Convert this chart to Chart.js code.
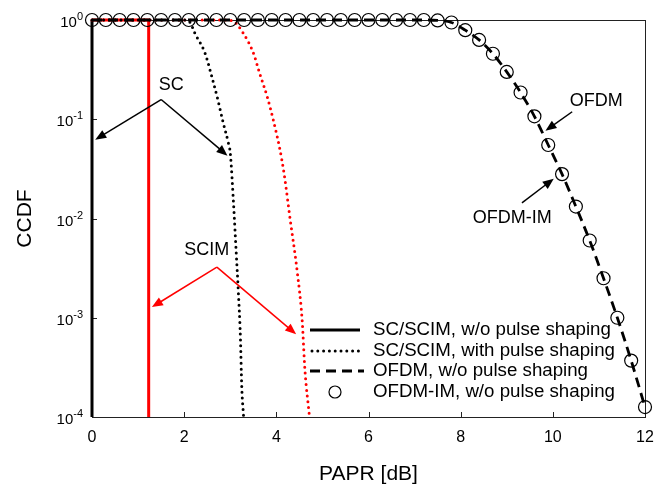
<!DOCTYPE html>
<html>
<head>
<meta charset="utf-8">
<script src="https://cdn.jsdelivr.net/npm/chart.js@4.4.1/dist/chart.umd.min.js"></script>
<style>
  body { margin: 0; background: #fff; }
  #wrap { width: 665px; height: 485px; }
</style>
</head>
<body>
<div id="wrap"><canvas id="papr" width="665" height="485"></canvas></div>
<script>
// OFDM / OFDM-IM simulation grid (dB) and CCDF values
const ofdmPapr = [0, 0.3, 0.6, 0.9, 1.2, 1.5, 1.8, 2.1, 2.4, 2.7, 3.0, 3.3, 3.6, 3.9, 4.2, 4.5, 4.8, 5.1, 5.4, 5.7,
                  6.0, 6.3, 6.6, 6.9, 7.2, 7.5, 7.8, 8.1, 8.4, 8.7, 9.0, 9.3, 9.6, 9.9, 10.2, 10.5, 10.8, 11.1, 11.4, 11.7, 12.0];
const ofdmCcdf = [1, 1, 1, 1, 1, 1, 1, 1, 1, 1, 1, 1, 1, 1, 1, 1, 1, 1, 1, 1,
                  1, 1, 1, 1, 1, 0.99, 0.944, 0.79, 0.63, 0.457, 0.30, 0.186, 0.107, 0.055, 0.028, 0.0132, 0.006, 0.0025, 0.001, 0.00037, 0.000126];
const ofdmImCcdf = [1, 1, 1, 1, 1, 1, 1, 1, 1, 1, 1, 1, 1, 1, 1, 1, 1, 1, 1, 1,
                    1, 1, 1, 1, 1, 0.99, 0.944, 0.79, 0.63, 0.457, 0.30, 0.186, 0.107, 0.055, 0.028, 0.0132, 0.006, 0.0025, 0.001, 0.00037, 0.000126];

// SC / SCIM without pulse shaping (step curves)
const scPapr = [0, 0];
const scCcdf = [1, 0.0001];
const scimPapr = [0, 1.23, 1.23];
const scimCcdf = [1, 1, 0.0001];

// SC / SCIM with pulse shaping
const scPsPapr = [0, 2.0, 2.13, 2.23, 2.45, 2.6, 2.73, 2.85, 2.96, 3.0, 3.07, 3.13, 3.17, 3.22, 3.25, 3.29];
const scPsCcdf = [1, 1, 0.944, 0.74, 0.468, 0.269, 0.158, 0.091, 0.0575, 0.046, 0.0145, 0.00447, 0.00204, 0.000646, 0.0002, 0.0001];
const scimPsPapr = [0, 2.9, 3.07, 3.28, 3.5, 3.64, 3.8, 3.93, 4.08, 4.17, 4.30, 4.45, 4.56, 4.62, 4.72];
const scimPsCcdf = [1, 1, 0.97, 0.74, 0.468, 0.288, 0.17, 0.1, 0.049, 0.028, 0.0098, 0.003, 0.00095, 0.0003, 0.0001];

const xTicks = [0, 2, 4, 6, 8, 10, 12];
const yExponents = [0, -1, -2, -3, -4];

const legendLabels = ['SC/SCIM, w/o pulse shaping', 'SC/SCIM, with pulse shaping', 'OFDM, w/o pulse shaping', 'OFDM-IM, w/o pulse shaping'];

// text notes and arrows, in data units
const noteText = ['SC', 'SCIM', 'OFDM', 'OFDM-IM'];
const noteX = [1.72, 2.49, 10.94, 9.12];
const noteY = [0.221, 0.0048, 0.154, 0.010];
const arrowFromX = [1.50, 1.50, 2.71, 2.71, 10.42, 9.33];
const arrowFromY = [0.158, 0.158, 0.00324, 0.00324, 0.119, 0.0144];
const arrowToX = [0.07, 2.94, 1.30, 4.43, 9.84, 10.02];
const arrowToY = [0.0622, 0.043, 0.00128, 0.000682, 0.0767, 0.0252];
const arrowColor = ['#000', '#000', '#f00', '#f00', '#000', '#000'];

const FONT = '"Liberation Sans", Arial, sans-serif';
const dotted = [0, 5.8];
const dashed = [10, 6];

function pts(xs, ys) {
    return xs.map((x, i) => ({x: x, y: ys[i]}));
}

function drawArrow(ctx, x1, y1, x2, y2, color) {
    const ang = Math.atan2(y2 - y1, x2 - x1);
    const len = 11, half = 4.5;
    ctx.save();
    ctx.strokeStyle = color;
    ctx.fillStyle = color;
    ctx.lineWidth = 1.5;
    ctx.beginPath();
    ctx.moveTo(x1, y1);
    ctx.lineTo(x2 - Math.cos(ang) * len * 0.8, y2 - Math.sin(ang) * len * 0.8);
    ctx.stroke();
    ctx.beginPath();
    ctx.moveTo(x2, y2);
    ctx.lineTo(x2 - Math.cos(ang) * len - Math.sin(ang) * half, y2 - Math.sin(ang) * len + Math.cos(ang) * half);
    ctx.lineTo(x2 - Math.cos(ang) * len + Math.sin(ang) * half, y2 - Math.sin(ang) * len - Math.cos(ang) * half);
    ctx.closePath();
    ctx.fill();
    ctx.restore();
}

const frame = {
    id: 'frame',
    beforeDatasetsDraw(chart) {
        const {ctx, chartArea: a, scales} = chart;
        ctx.save();
        ctx.strokeStyle = '#222';
        ctx.lineWidth = 1;
        ctx.strokeRect(a.left + 0.5, a.top + 0.5, a.right - a.left, a.bottom - a.top);
        ctx.beginPath();
        xTicks.forEach(v => {
            const x = Math.round(scales.x.getPixelForValue(v)) + 0.5;
            ctx.moveTo(x, a.bottom);
            ctx.lineTo(x, a.bottom - 5);
        });
        yExponents.forEach(e => {
            const y = Math.round(scales.y.getPixelForValue(Math.pow(10, e))) + 0.5;
            ctx.moveTo(a.left, y);
            ctx.lineTo(a.left + 5, y);
        });
        ctx.stroke();

        // y tick labels 10^n
        ctx.fillStyle = '#000';
        ctx.textBaseline = 'middle';
        yExponents.forEach(e => {
            const y = scales.y.getPixelForValue(Math.pow(10, e));
            const sup = String(e);
            ctx.font = '11px ' + FONT;
            const supW = ctx.measureText(sup).width;
            ctx.font = '15px ' + FONT;
            const baseW = ctx.measureText('10').width;
            const right = a.left - 9;
            ctx.textAlign = 'left';
            ctx.fillText('10', right - supW - baseW, y + 3);
            ctx.font = '11px ' + FONT;
            ctx.fillText(sup, right - supW, y - 3);
        });

        // axis titles
        ctx.font = '21px ' + FONT;
        ctx.textAlign = 'center';
        ctx.fillText('PAPR [dB]', (a.left + a.right) / 2, 474);
        ctx.save();
        ctx.translate(25, (a.top + a.bottom) / 2);
        ctx.rotate(-Math.PI / 2);
        ctx.fillText('CCDF', 0, 0);
        ctx.restore();
        ctx.restore();
    },
    afterDatasetsDraw(chart) {
        const {ctx, scales} = chart;
        ctx.save();
        // arrows and notes
        arrowFromX.forEach((v, i) => {
            drawArrow(ctx,
                scales.x.getPixelForValue(v), scales.y.getPixelForValue(arrowFromY[i]),
                scales.x.getPixelForValue(arrowToX[i]), scales.y.getPixelForValue(arrowToY[i]),
                arrowColor[i]);
        });
        ctx.font = '18px ' + FONT;
        ctx.textAlign = 'center';
        ctx.textBaseline = 'middle';
        ctx.fillStyle = '#000';
        noteText.forEach((t, i) => {
            ctx.fillText(t, scales.x.getPixelForValue(noteX[i]), scales.y.getPixelForValue(noteY[i]));
        });

        // legend
        const rows = [330, 351, 371, 392];
        const x0 = 310, x1 = 360, tx = 373;
        ctx.strokeStyle = '#000';
        ctx.textAlign = 'left';
        ctx.font = '18.7px ' + FONT;
        legendLabels.forEach((t, i) => {
            const y = rows[i];
            ctx.lineCap = 'butt';
            ctx.setLineDash([]);
            if (i === 0) {
                ctx.lineWidth = 3;
                ctx.beginPath(); ctx.moveTo(x0, y); ctx.lineTo(x1, y); ctx.stroke();
            } else if (i === 1) {
                ctx.lineWidth = 3;
                ctx.lineCap = 'round';
                ctx.setLineDash(dotted);
                ctx.beginPath(); ctx.moveTo(x0 + 2, y); ctx.lineTo(x1, y); ctx.stroke();
            } else if (i === 2) {
                ctx.lineWidth = 2.8;
                ctx.setLineDash(dashed);
                ctx.beginPath(); ctx.moveTo(x0, y); ctx.lineTo(x1 + 4, y); ctx.stroke();
            } else {
                ctx.lineWidth = 1.2;
                ctx.beginPath(); ctx.arc((x0 + x1) / 2, y, 6, 0, Math.PI * 2); ctx.stroke();
            }
            ctx.setLineDash([]);
            ctx.fillText(t, tx, y);
        });
        ctx.restore();
    }
};

const lineBase = {
    pointRadius: 0,
    fill: false,
    clip: false,
    cubicInterpolationMode: 'monotone'
};

new Chart(document.getElementById('papr'), {
    type: 'line',
    data: {
        datasets: [
            Object.assign({}, lineBase, {
                label: 'SC, w/o pulse shaping', data: pts(scPapr, scCcdf),
                borderColor: '#000', borderWidth: 3, order: 3
            }),
            Object.assign({}, lineBase, {
                label: 'SCIM, w/o pulse shaping', data: pts(scimPapr, scimCcdf),
                borderColor: '#f00', borderWidth: 3, order: 3, cubicInterpolationMode: 'default', tension: 0
            }),
            Object.assign({}, lineBase, {
                label: 'SC, with pulse shaping', data: pts(scPsPapr, scPsCcdf),
                borderColor: '#000', borderWidth: 3, borderDash: dotted, borderCapStyle: 'round', order: 2
            }),
            Object.assign({}, lineBase, {
                label: 'SCIM, with pulse shaping', data: pts(scimPsPapr, scimPsCcdf),
                borderColor: '#f00', borderWidth: 3, borderDash: dotted, borderCapStyle: 'round', order: 2
            }),
            Object.assign({}, lineBase, {
                label: 'OFDM, w/o pulse shaping', data: pts(ofdmPapr, ofdmCcdf),
                borderColor: '#000', borderWidth: 2.8, borderDash: dashed, order: 1
            }),
            {
                label: 'OFDM-IM, w/o pulse shaping', data: pts(ofdmPapr, ofdmImCcdf),
                showLine: false, clip: false, order: 0,
                pointRadius: 6.5, pointStyle: 'circle',
                pointBorderColor: '#000', pointBackgroundColor: 'rgba(0,0,0,0)', pointBorderWidth: 1.2
            }
        ]
    },
    options: {
        responsive: false,
        animation: false,
        devicePixelRatio: 1,
        layout: { padding: { top: 20, right: 20, left: 0, bottom: 0 } },
        plugins: { legend: { display: false }, tooltip: { enabled: false } },
        scales: {
            x: {
                type: 'linear', min: 0, max: 12,
                grid: { display: false, drawTicks: false },
                border: { display: false },
                ticks: {
                    stepSize: 2, padding: 11, color: '#000',
                    font: { size: 16, family: FONT },
                    maxRotation: 0
                },
                afterFit: s => { s.height = 68; }
            },
            y: {
                type: 'logarithmic', min: 0.0001, max: 1,
                grid: { display: false, drawTicks: false },
                border: { display: false },
                ticks: { display: false },
                afterFit: s => { s.width = 92; }
            }
        }
    },
    plugins: [frame]
});
</script>
</body>
</html>
